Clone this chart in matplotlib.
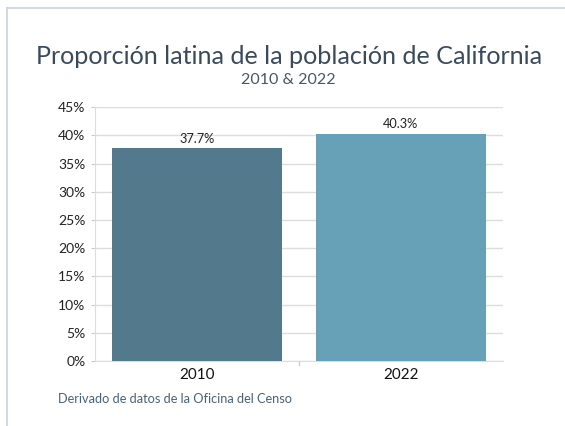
import matplotlib
matplotlib.use("Agg")
import matplotlib.pyplot as plt
from matplotlib.lines import Line2D

years = ["2010", "2022"]
share = [37.7, 40.3]
bar_colors = ["#537a8c", "#66a1b8"]
yticks = [0, 5, 10, 15, 20, 25, 30, 35, 40, 45]

plt.rcParams["font.family"] = ["Lato", "DejaVu Sans"]

W, H = 565, 426
fig = plt.figure(figsize=(W / 100, H / 100), dpi=100)

# panel border (left and top only)
fig.add_artist(Line2D([7 / W, 7 / W], [0, 1 - 8 / H], color="#c9d4e0", lw=1.2))
fig.add_artist(Line2D([7 / W, 1], [1 - 8 / H, 1 - 8 / H], color="#c9d4e0", lw=1.2))

ax = fig.add_axes([95 / W, 1 - 361 / H, 408 / W, (361 - 107.3) / H])

x = range(len(years))
bars = ax.bar(x, share, width=0.833, color=bar_colors, zorder=3)
for b, v in zip(bars, share):
    ax.text(b.get_x() + b.get_width() / 2, v + 0.6, f"{v}%", ha="center", va="bottom",
            fontsize=9.2, color="#222222")

ax.set_xlim(-0.5, 1.5)
ax.set_ylim(0, 45)
ax.set_yticks(yticks)
ax.set_yticklabels([f"{t}%" for t in yticks], fontsize=10, color="#222222")
ax.set_xticks(list(x))
ax.set_xticklabels(years, fontsize=11, color="#111111")
ax.tick_params(axis="x", length=0, pad=5)
ax.tick_params(axis="y", length=3, color="#cccccc", pad=4)
ax.yaxis.grid(True, color="#dddddd", lw=1, zorder=0)

# separator tick between categories
ax.plot([0.5, 0.5], [0, -0.7], color="#cccccc", lw=1, clip_on=False)

for s in ["top", "right"]:
    ax.spines[s].set_visible(False)
ax.spines["left"].set_color("#dddddd")
ax.spines["bottom"].set_color("#dddddd")

fig.text(289 / W, 1 - 56 / H, "Proporción latina de la población de California",
         ha="center", va="center", fontsize=18.1, color="#3b4a5a")
fig.text(288 / W, 1 - 80 / H, "2010 & 2022", ha="center", va="center",
         fontsize=11.5, color="#4a5661")
fig.text(58 / W, 1 - 399 / H, "Derivado de datos de la Oficina del Censo",
         ha="left", va="center", fontsize=9.2, color="#4b6275")

fig.savefig("out.png", dpi=100)
